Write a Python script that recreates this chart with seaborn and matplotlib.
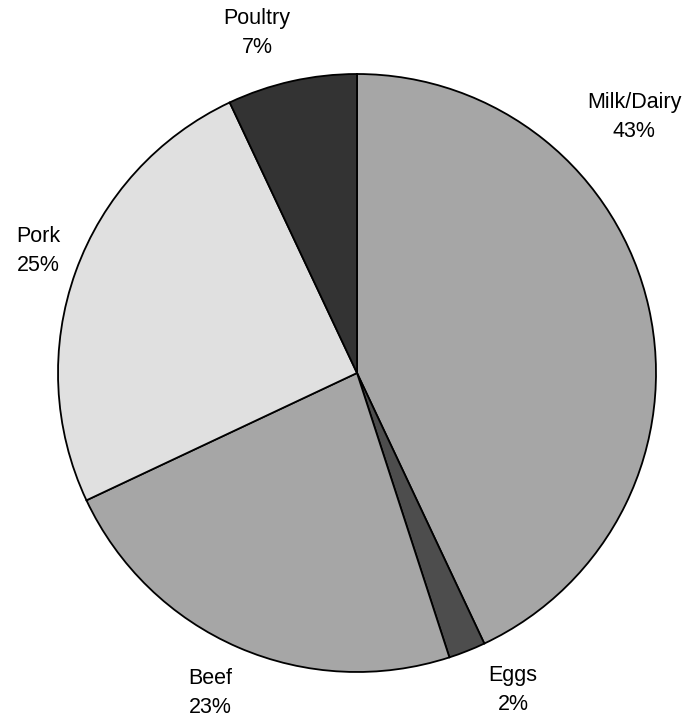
import matplotlib
matplotlib.use("Agg")
import matplotlib.pyplot as plt
import seaborn as sns

# Data
categories = ["Milk/Dairy", "Eggs", "Beef", "Pork", "Poultry"]
shares = [43, 2, 23, 25, 7]
colors = ["#a6a6a6", "#4d4d4d", "#a6a6a6", "#e0e0e0", "#333333"]

# label centres, in pie-radius units (Excel "best fit" placement)
label_x = [0.927, 0.522, -0.492, -1.067, -0.334]
label_y = [0.856, -1.060, -1.070, 0.408, 1.137]

sns.set_theme(style="white")
plt.rcParams["font.family"] = ["Liberation Sans", "DejaVu Sans"]

fig = plt.figure(figsize=(6.95, 7.24), dpi=100)
ax = fig.add_axes([0, 0, 1, 1])

ax.pie(
    shares,
    colors=colors,
    startangle=90,
    counterclock=False,
    radius=1.0,
    wedgeprops=dict(edgecolor="black", linewidth=1.3),
)

for name, val, x, y in zip(categories, shares, label_x, label_y):
    ax.text(
        x, y, f"{name}\n{val}%",
        ha="center", va="center",
        fontsize=15.5, color="black", linespacing=1.55,
    )

ax.set_aspect("equal")
ax.set_xlim(-357 / 299, (695 - 357) / 299)
ax.set_ylim(-(724 - 373) / 299, 373 / 299)
ax.axis("off")

fig.savefig("out.png", dpi=100, facecolor="white")
